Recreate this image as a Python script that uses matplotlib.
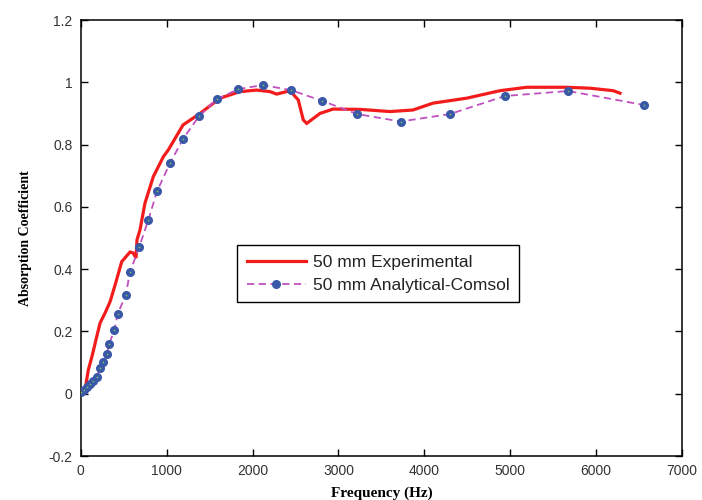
import numpy as np
import matplotlib
matplotlib.use("Agg")
import matplotlib.pyplot as plt

# experimental curve
f_exp = [0, 50, 88, 135, 186, 225, 283, 341, 400, 477, 574, 609, 644, 655, 690, 748, 845,
         962, 1020, 1191, 1389, 1622, 1854, 2049, 2204, 2282, 2437, 2533, 2591, 2631, 2786,
         2937, 3251, 3601, 3868, 4101, 4494, 4881, 5192, 5658, 5929, 6200, 6278]
a_exp = [0.0, 0.012, 0.076, 0.124, 0.183, 0.227, 0.259, 0.295, 0.349, 0.424, 0.455, 0.452,
         0.436, 0.494, 0.526, 0.612, 0.697, 0.761, 0.783, 0.863, 0.900, 0.949, 0.970, 0.975,
         0.970, 0.962, 0.973, 0.943, 0.879, 0.868, 0.900, 0.914, 0.913, 0.906, 0.911, 0.933,
         0.949, 0.973, 0.984, 0.984, 0.981, 0.973, 0.965]

# analytical / comsol points
f_ana = [3, 38, 73, 108, 143, 186, 225, 263, 302, 333, 391, 430, 524, 574, 682, 787, 888,
         1039, 1191, 1377, 1587, 1835, 2119, 2445, 2805, 3220, 3725, 4299, 4939, 5676, 6558]
a_ana = [0.005, 0.012, 0.022, 0.031, 0.041, 0.055, 0.083, 0.103, 0.127, 0.161, 0.204, 0.256,
         0.317, 0.391, 0.472, 0.558, 0.650, 0.740, 0.818, 0.891, 0.946, 0.978, 0.991, 0.975,
         0.941, 0.898, 0.874, 0.898, 0.956, 0.972, 0.927]

xticks = [0, 1000, 2000, 3000, 4000, 5000, 6000, 7000]
yticks = [-0.2, 0, 0.2, 0.4, 0.6, 0.8, 1, 1.2]
ytick_labels = ["-0.2", "0", "0.2", "0.4", "0.6", "0.8", "1", "1.2"]

plt.rcParams["font.family"] = ["Liberation Sans", "DejaVu Sans"]

fig = plt.figure(figsize=(7.02, 5.0), dpi=100)
ax = fig.add_axes([0.115, 0.088, 0.8565, 0.872])

ax.plot(f_exp, a_exp, color="#f21c1c", lw=2.3, solid_joinstyle="miter",
        label="50 mm Experimental", zorder=3)
ax.plot(f_ana, a_ana, color="#c050c0", lw=1.3, ls=(0, (4, 2.5)),
        marker="o", ms=5.5, mfc="#3a58a8", mec="#3a58a8",
        label="50 mm Analytical-Comsol", zorder=4)
ax.plot(f_ana, a_ana, ls="none", marker="o", ms=1.2, mfc="#7cc060", mec="none", zorder=5)

ax.set_xlim(0, 7000)
ax.set_ylim(-0.2, 1.2)
ax.set_xticks(xticks)
ax.set_yticks(yticks)
ax.set_yticklabels(ytick_labels)
ax.tick_params(direction="in", top=True, right=True, length=5, width=1,
               labelsize=10, labelcolor="#333333", pad=6)
for s in ax.spines.values():
    s.set_linewidth(1.1)

ax.set_xlabel("Frequency (Hz)", family="Liberation Serif", fontweight="bold",
              fontsize=11, labelpad=6)
ax.set_ylabel("Absorption Coefficient", family="Liberation Serif", fontweight="bold",
              fontsize=10, labelpad=12)

leg = ax.legend(loc="upper left", bbox_to_anchor=(0.2604, 0.484), borderaxespad=0,
                fontsize=12.5, handlelength=3.4, fancybox=False, framealpha=1,
                edgecolor="black", borderpad=0.55, labelspacing=0.45, handletextpad=0.4)
leg.get_frame().set_linewidth(1.0)
for t in leg.get_texts():
    t.set_color("#222222")

fig.savefig("out.png", dpi=100)
